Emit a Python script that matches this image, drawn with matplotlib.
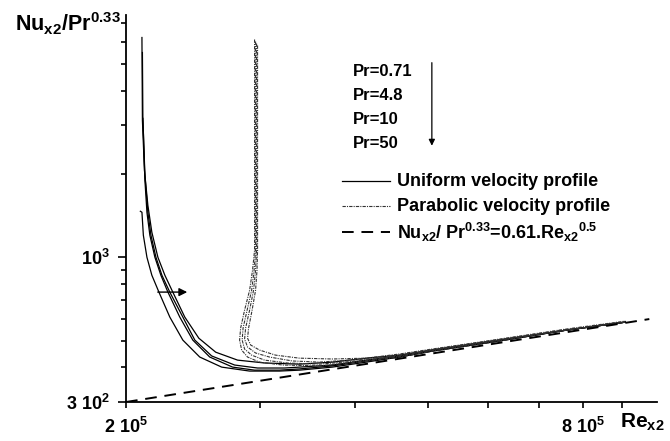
import numpy as np
import matplotlib.pyplot as plt

plt.rcParams['font.family'] = ['Liberation Sans', 'DejaVu Sans']
plt.rcParams['font.weight'] = 'bold'
plt.rcParams['mathtext.fontset'] = 'custom'
plt.rcParams['mathtext.rm'] = 'Liberation Sans:bold'
plt.rcParams['mathtext.it'] = 'Liberation Sans:bold'
plt.rcParams['mathtext.bf'] = 'Liberation Sans:bold'
plt.rcParams['mathtext.default'] = 'regular'

# Uniform velocity profile, Pr = 0.71, 4.8, 10, 50
re_u1 = [2.099e5, 2.102e5, 2.115e5, 2.137e5, 2.163e5, 2.203e5, 2.250e5, 2.305e5, 2.390e5, 2.494e5,
         2.625e5, 2.805e5, 3.044e5, 3.383e5, 3.738e5, 4.143e5, 4.576e5, 5.056e5, 6.191e5, 7.580e5, 9.086e5]
nu_u1 = [6220, 3121, 2060, 1541, 1231, 1000, 861, 748, 608, 510,
         454, 425, 415, 411, 418, 432, 443, 462, 502, 545, 583]

re_u2 = [2.102e5, 2.105e5, 2.118e5, 2.137e5, 2.157e5, 2.190e5, 2.230e5, 2.284e5, 2.376e5, 2.464e5, 2.593e5,
         2.780e5, 2.980e5, 3.233e5, 3.383e5, 3.738e5, 4.143e5, 4.576e5, 5.056e5, 6.191e5, 7.580e5, 9.086e5]
nu_u2 = [5490, 3175, 1977, 1454, 1201, 1000, 861, 748, 608, 502, 440,
         408, 398, 398, 401, 408, 425, 440, 462, 502, 545, 583]

re_u3 = [2.105e5, 2.118e5, 2.131e5, 2.150e5, 2.183e5, 2.223e5, 2.271e5, 2.354e5, 2.449e5, 2.578e5,
         2.763e5, 2.953e5, 3.185e5, 3.383e5, 3.738e5, 4.143e5, 4.576e5, 5.056e5, 6.191e5, 7.580e5, 9.086e5]
nu_u3 = [3175, 1896, 1454, 1201, 1000, 861, 748, 608, 502, 436,
         401, 391, 391, 395, 405, 422, 436, 458, 498, 545, 583]

re_u4 = [2.089e5, 2.099e5, 2.108e5, 2.131e5, 2.163e5, 2.210e5, 2.284e5, 2.376e5, 2.501e5, 2.673e5,
         2.909e5, 3.185e5, 3.383e5, 3.738e5, 4.143e5, 4.576e5, 5.056e5, 6.191e5, 7.580e5, 9.086e5]
nu_u4 = [1466, 1454, 1201, 1000, 861, 748, 608, 502, 436, 401,
         388, 388, 391, 401, 418, 436, 458, 498, 545, 583]

# Parabolic velocity profile
re_p1 = [2.953e5, 2.953e5, 2.953e5, 2.935e5, 2.909e5, 2.865e5, 2.831e5, 2.822e5, 2.840e5, 2.891e5,
         2.998e5, 3.214e5, 3.594e5, 4.143e5, 4.576e5, 5.056e5, 6.191e5, 7.580e5, 9.086e5]
nu_p1 = [6117, 1606, 1060, 898, 760, 644, 555, 502, 462, 436,
         418, 408, 405, 422, 436, 458, 498, 545, 583]

re_p2 = [2.962e5, 2.962e5, 2.962e5, 2.949e5, 2.927e5, 2.887e5, 2.852e5, 2.844e5, 2.865e5, 2.927e5,
         3.044e5, 3.263e5, 3.594e5, 4.143e5, 4.576e5, 5.056e5, 6.191e5, 7.580e5, 9.086e5]
nu_p2 = [6016, 1606, 1060, 898, 760, 644, 555, 502, 466, 443,
         425, 415, 411, 425, 440, 462, 502, 545, 583]

re_p3 = [2.971e5, 2.971e5, 2.971e5, 2.962e5, 2.944e5, 2.909e5, 2.874e5, 2.865e5, 2.891e5, 2.962e5,
         3.090e5, 3.312e5, 3.594e5, 4.143e5, 4.576e5, 5.056e5, 6.191e5, 7.580e5, 9.086e5]
nu_p3 = [5917, 1606, 1060, 898, 760, 644, 555, 506, 474, 451,
         436, 422, 418, 429, 443, 462, 502, 545, 583]

re_p4 = [2.980e5, 2.980e5, 2.980e5, 2.975e5, 2.962e5, 2.931e5, 2.900e5, 2.891e5, 2.918e5, 2.998e5,
         3.147e5, 3.383e5, 3.738e5, 4.143e5, 4.576e5, 5.056e5, 6.191e5, 7.580e5, 9.086e5]
nu_p4 = [5820, 1606, 1060, 898, 760, 644, 555, 510, 482, 462,
         443, 432, 429, 432, 447, 466, 506, 550, 588]

# correlation Nu/Pr^0.33 = 0.61 Re^0.5 (end points as drawn)
re_corr = [2.0e5, 9.77e5]
nu_corr = [300, 598]

pr_labels = ['Pr=0.71', 'Pr=4.8', 'Pr=10', 'Pr=50']

x_major = [2e5, 8e5]
x_major_labels = ['2 10$^5$', '8 10$^5$']
x_minor = [3e5, 4e5, 5e5, 6e5, 7e5, 9e5]
y_major = [300, 1000]
y_major_labels = ['3 10$^2$', '10$^3$']
y_minor = [400, 500, 600, 700, 800, 900, 2000, 3000, 4000, 5000, 6000, 7000]

fig = plt.figure(figsize=(6.7, 4.41), dpi=100)
ax = fig.add_axes([126 / 670, 39 / 441, 531 / 670, 387 / 441])

uni = [(re_u1, nu_u1), (re_u2, nu_u2), (re_u3, nu_u3), (re_u4, nu_u4)]
for re, nu in uni:
    ax.plot(re, nu, color='black', lw=0.9)

par = [(re_p1, nu_p1), (re_p2, nu_p2), (re_p3, nu_p3), (re_p4, nu_p4)]
for re, nu in par:
    ax.plot(re, nu, color='0.2', lw=0.8, ls=(0, (3, 1, 1, 1)))

ax.plot(re_corr, nu_corr, color='black', lw=1.4, ls=(0, (6, 4)))

ax.set_xscale('log')
ax.set_yscale('log')
ax.set_xlim(2e5, 1e6)
ax.set_ylim(300, 7500)

ax.set_xticks(x_major)
ax.set_xticklabels(x_major_labels)
ax.set_xticks(x_minor, minor=True)
ax.set_xticklabels([], minor=True)
ax.set_yticks(y_major)
ax.set_yticklabels(y_major_labels)
ax.set_yticks(y_minor, minor=True)
ax.set_yticklabels([], minor=True)

ax.tick_params(axis='both', which='major', labelsize=13, width=1.2)
ax.tick_params(axis='x', which='both', length=4, width=1.2, pad=7)
ax.tick_params(axis='y', which='major', length=6, pad=6)
ax.tick_params(axis='y', which='minor', length=3.5, width=1.2)

for s in ['top', 'right']:
    ax.spines[s].set_visible(False)
for s in ['left', 'bottom']:
    ax.spines[s].set_linewidth(1.3)

# Pr labels with arrow
for i, lab in enumerate(pr_labels):
    ax.text(0.4275, 0.855 - i * 0.062, lab, transform=ax.transAxes,
            fontsize=12, fontweight='bold', va='center', ha='left')
ax.annotate('', xy=(0.576, 0.655), xytext=(0.576, 0.884), xycoords='axes fraction',
            arrowprops=dict(arrowstyle='-|>', color='black', lw=0.9, mutation_scale=9))

# horizontal arrow across the uniform curves
ax.annotate('', xy=(0.1205, 0.284), xytext=(0.0546, 0.284), xycoords='axes fraction',
            arrowprops=dict(arrowstyle='-|>', color='black', lw=1.0, mutation_scale=12))

# legend
ax.plot([0.407, 0.497], [0.571, 0.571], transform=ax.transAxes, color='black', lw=0.9)
ax.plot([0.407, 0.497], [0.506, 0.506], transform=ax.transAxes, color='0.2', lw=0.8,
        ls=(0, (3, 1, 1, 1)))
ax.plot([0.407, 0.497], [0.439, 0.439], transform=ax.transAxes, color='black', lw=1.4,
        ls=(0, (6, 4)))
ax.text(0.51, 0.571, 'Uniform velocity profile', transform=ax.transAxes, fontsize=13,
        fontweight='bold', va='center')
ax.text(0.51, 0.506, 'Parabolic velocity profile', transform=ax.transAxes, fontsize=13,
        fontweight='bold', va='center')
ax.text(0.51, 0.439, 'Nu$_{x2}$/ Pr$^{0.33}$=0.61.Re$_{x2}$$^{0.5}$', transform=ax.transAxes,
        fontsize=13, fontweight='bold', va='center')

# axis titles
fig.text(15 / 670, 1 - 31 / 441, 'Nu$_{x2}$/Pr$^{0.33}$', fontsize=15.5, fontweight='bold',
         va='baseline', ha='left')
fig.text(620 / 670, 1 - 428 / 441, 'Re$_{x2}$', fontsize=15, fontweight='bold',
         va='baseline', ha='left')

fig.savefig('out.png', dpi=100)
